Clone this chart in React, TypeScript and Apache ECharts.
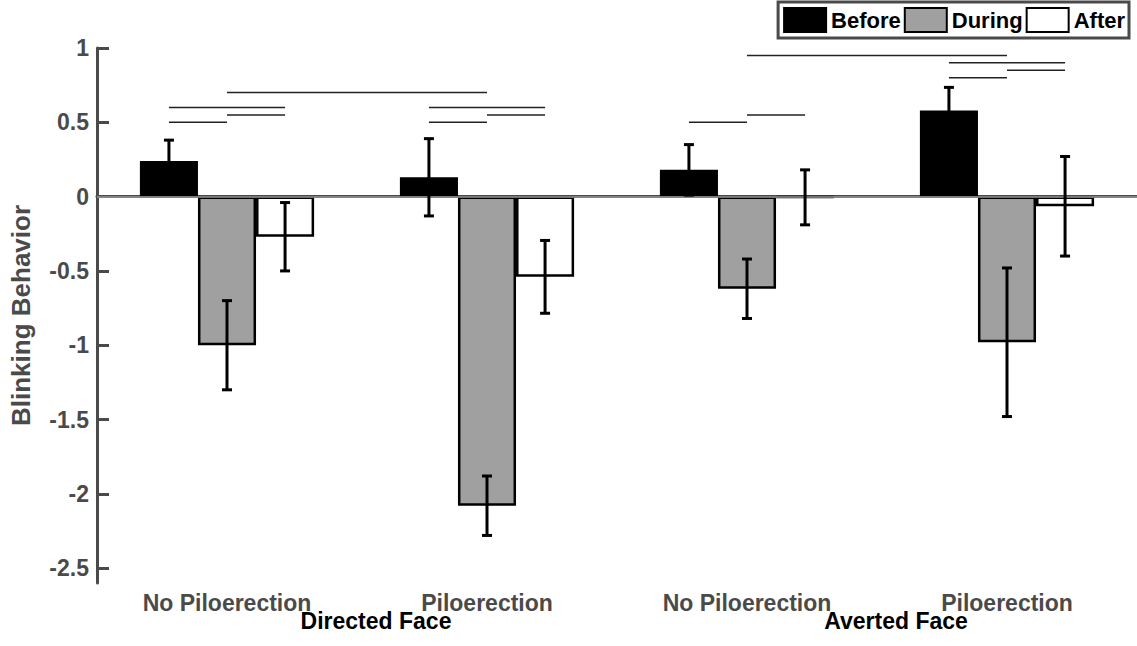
import React, { useEffect, useRef } from "react";
import * as echarts from "echarts";

const categories = ["g1", "g2", "g3", "g4"];
const categoryLabels = ["No Piloerection", "Piloerection", "No Piloerection", "Piloerection"];
const faceLabels = ["Directed Face", "Averted Face"];
const seriesNames = ["Before", "During", "After"];
const beforeValues = [0.24, 0.13, 0.18, 0.58];
const duringValues = [-1.0, -2.08, -0.62, -0.98];
const afterValues = [-0.27, -0.54, -0.005, -0.065];
const beforeErr = [0.14, 0.26, 0.17, 0.155];
const duringErr = [0.3, 0.2, 0.2, 0.5];
const afterErr = [0.23, 0.245, 0.185, 0.335];
const yTicks = [-2.5, -2, -1.5, -1, -0.5, 0, 0.5, 1];
// significance lines: [fromGroup, fromBar, toGroup, toBar, height]
const sigLines = [
  [0, 0, 0, 1, 0.5],
  [0, 1, 0, 2, 0.55],
  [0, 0, 0, 2, 0.6],
  [0, 1, 1, 1, 0.7],
  [1, 0, 1, 1, 0.5],
  [1, 1, 1, 2, 0.55],
  [1, 0, 1, 2, 0.6],
  [2, 0, 2, 1, 0.5],
  [2, 1, 2, 2, 0.55],
  [3, 0, 3, 1, 0.8],
  [3, 1, 3, 2, 0.85],
  [3, 0, 3, 2, 0.9],
  [2, 1, 3, 1, 0.95],
];

const GAP = 0.33;
const FONT = "Liberation Sans, Arial, Helvetica, sans-serif";
const AXIS_COLOR = "#4a4a4a";

export default function App() {
  const ref = useRef<HTMLDivElement>(null);
  useEffect(() => {
    if (!ref.current) return;
    const chart = echarts.init(ref.current, undefined, { renderer: "svg" });
    const values = [beforeValues, duringValues, afterValues];
    const errs = [beforeErr, duringErr, afterErr];
    const colors = ["#000000", "#a0a0a0", "#ffffff"];
    const errData: number[][] = [];
    for (let s = 0; s < 3; s++) {
      for (let i = 0; i < categories.length; i++) {
        errData.push([i, s, values[s][i], errs[s][i]]);
      }
    }
    const barX = (api: any, ci: number, si: number) => {
      const catW = api.size([1, 0])[0];
      const bw = (catW * (1 - GAP)) / 3;
      return api.coord([ci, 0])[0] + (si - 1) * bw;
    };
    const option: any = {
      animation: false,
      backgroundColor: "#ffffff",
      textStyle: { fontFamily: FONT },
      legend: {
        top: 2,
        right: 8,
        orient: "horizontal",
        itemWidth: 42,
        itemHeight: 24,
        itemGap: 3,
        padding: [5, 4, 5, 5],
        borderColor: AXIS_COLOR,
        borderWidth: 3,
        backgroundColor: "#ffffff",
        textStyle: { fontFamily: FONT, fontWeight: "bold", fontSize: 22, color: "#000" },
        data: seriesNames.map((n, i) => ({
          name: n,
          icon: "rect",
          itemStyle: { color: colors[i], borderColor: "#000", borderWidth: 2 },
        })),
      },
      grid: { left: 90, right: -5, top: 48, bottom: 63, containLabel: false },
      xAxis: [
        {
          type: "category",
          data: categories,
          axisLine: { show: true, lineStyle: { color: AXIS_COLOR, width: 3 } },
          axisTick: { show: false },
          axisLabel: {
            formatter: (v: string) => categoryLabels[categories.indexOf(v)],
            fontFamily: FONT,
            fontWeight: "bold",
            fontSize: 23,
            color: AXIS_COLOR,
            margin: 8,
            interval: 0,
          },
          splitLine: { show: false },
        },
        {
          type: "category",
          data: faceLabels,
          position: "bottom",
          axisLine: { show: false },
          axisTick: { show: false },
          axisLabel: {
            fontFamily: FONT,
            fontWeight: "bold",
            fontSize: 23,
            color: "#000",
            margin: 26,
            padding: [0, 0, 0, 38],
            interval: 0,
          },
          splitLine: { show: false },
        },
      ],
      yAxis: {
        type: "value",
        min: -2.6,
        max: 1,
        name: "Blinking Behavior",
        nameLocation: "middle",
        nameGap: 63,
        nameTextStyle: { fontFamily: FONT, fontWeight: "bold", fontSize: 26, color: AXIS_COLOR },
        axisLine: { show: true, lineStyle: { color: AXIS_COLOR, width: 3 } },
        axisTick: { show: true, inside: true, length: 12, lineStyle: { color: AXIS_COLOR, width: 3 }, customValues: yTicks },
        axisLabel: {
          fontFamily: FONT,
          fontWeight: "bold",
          fontSize: 23,
          color: AXIS_COLOR,
          margin: 8,
          customValues: yTicks,
          formatter: (v: number) => String(v),
        },
        splitLine: { show: false },
      },
      series: [
        {
          type: "line",
          name: "zero",
          data: [],
          z: 1,
          silent: true,
          markLine: {
            silent: true,
            symbol: "none",
            label: { show: false },
            lineStyle: { color: "#999999", width: 1.5, type: "solid" },
            data: [{ yAxis: 0 }],
          },
        },
        ...seriesNames.map((n, s) => ({
          type: "bar",
          name: n,
          data: values[s],
          barGap: "0%",
          barCategoryGap: `${GAP * 100}%`,
          z: 2,
          itemStyle: { color: colors[s], borderColor: "#000", borderWidth: 2.5 },
        })),
        {
          type: "custom",
          name: "errors",
          z: 5,
          silent: true,
          data: errData,
          encode: { x: 0, y: 2 },
          renderItem: (params: any, api: any) => {
            const ci = api.value(0);
            const si = api.value(1);
            const v = api.value(2);
            const e = api.value(3);
            const cx = barX(api, ci, si);
            const yTop = api.coord([ci, v + e])[1];
            const yBot = api.coord([ci, v - e])[1];
            const cap = 5;
            const st = { stroke: "#000", lineWidth: 3 };
            return {
              type: "group",
              children: [
                { type: "line", shape: { x1: cx, y1: yTop, x2: cx, y2: yBot }, style: st },
                { type: "line", shape: { x1: cx - cap, y1: yTop, x2: cx + cap, y2: yTop }, style: st },
                { type: "line", shape: { x1: cx - cap, y1: yBot, x2: cx + cap, y2: yBot }, style: st },
              ],
            };
          },
        },
        {
          type: "custom",
          name: "significance",
          z: 4,
          silent: true,
          data: sigLines,
          encode: { x: 0, y: 4 },
          renderItem: (params: any, api: any) => {
            const g0 = api.value(0);
            const b0 = api.value(1);
            const g1 = api.value(2);
            const b1 = api.value(3);
            const h = api.value(4);
            const x1 = barX(api, g0, b0);
            const x2 = barX(api, g1, b1);
            const y = api.coord([g0, h])[1];
            return {
              type: "line",
              shape: { x1, y1: y, x2, y2: y },
              style: { stroke: "#222", lineWidth: 1.5 },
            };
          },
        },
      ],
    };
    chart.setOption(option);
    return () => chart.dispose();
  }, []);
  return (
    <div
      ref={ref}
      style={{ position: "fixed", left: 0, top: 0, width: 1137, height: 646, overflow: "hidden", background: "#fff" }}
    />
  );
}
